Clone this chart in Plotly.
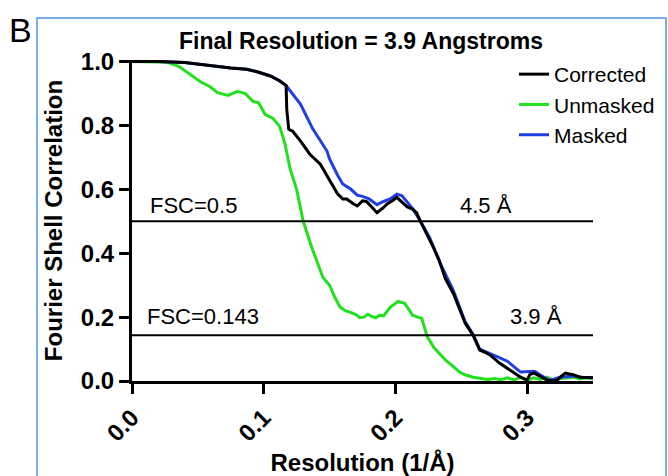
import plotly.graph_objects as go

# ---------------- data ----------------
corrected_x = [0.0, 0.02, 0.04, 0.055, 0.064, 0.075, 0.087, 0.095, 0.105, 0.112, 0.117, 0.1175, 0.119,
               0.122, 0.128, 0.135, 0.143, 0.150, 0.156, 0.160, 0.163, 0.168, 0.171, 0.175, 0.178,
               0.182, 0.186, 0.190, 0.194, 0.198, 0.201, 0.205, 0.209, 0.213, 0.216, 0.219, 0.224,
               0.229, 0.233, 0.238, 0.244, 0.249, 0.253, 0.259, 0.264, 0.268, 0.272, 0.279, 0.284,
               0.289, 0.295, 0.300, 0.302, 0.305, 0.308, 0.312, 0.315, 0.320, 0.323, 0.326, 0.329,
               0.332, 0.335, 0.340, 0.345, 0.350]
corrected_y = [1.0, 1.0, 0.997, 0.99, 0.984, 0.98, 0.976, 0.968, 0.955, 0.94, 0.925, 0.85, 0.788,
               0.782, 0.751, 0.710, 0.679, 0.630, 0.586, 0.570, 0.570, 0.555, 0.548, 0.564, 0.562,
               0.545, 0.527, 0.540, 0.555, 0.565, 0.575, 0.560, 0.545, 0.538, 0.527, 0.500, 0.461,
               0.417, 0.380, 0.320, 0.274, 0.220, 0.181, 0.143, 0.097, 0.090, 0.081, 0.056, 0.042,
               0.028, 0.012, 0.003, 0.020, 0.025, 0.019, 0.010, 0.003, 0.0, 0.003, 0.015, 0.025,
               0.022, 0.020, 0.012, 0.012, 0.010]

unmasked_x = [0.0, 0.02, 0.027, 0.036, 0.046, 0.052, 0.059, 0.065, 0.073, 0.080, 0.086, 0.092, 0.096,
              0.101, 0.107, 0.112, 0.116, 0.120, 0.125, 0.130, 0.137, 0.145, 0.150, 0.154, 0.158,
              0.162, 0.166, 0.170, 0.173, 0.176, 0.179, 0.182, 0.185, 0.188, 0.191, 0.196, 0.202,
              0.207, 0.210, 0.213, 0.217, 0.220, 0.224, 0.229, 0.232, 0.239, 0.244, 0.249, 0.254,
              0.259, 0.265, 0.270, 0.275, 0.280, 0.285, 0.290, 0.295, 0.300, 0.305, 0.310, 0.315,
              0.320, 0.325, 0.330, 0.335, 0.340, 0.345, 0.350]
unmasked_y = [1.0, 1.0, 0.998, 0.984, 0.953, 0.937, 0.922, 0.903, 0.894, 0.907, 0.900, 0.875, 0.872,
              0.835, 0.822, 0.798, 0.745, 0.665, 0.600, 0.500, 0.412, 0.324, 0.300, 0.262, 0.231,
              0.220, 0.215, 0.208, 0.198, 0.200, 0.209, 0.202, 0.198, 0.206, 0.204, 0.231, 0.249,
              0.243, 0.225, 0.206, 0.200, 0.196, 0.140, 0.106, 0.092, 0.062, 0.045, 0.027, 0.018,
              0.012, 0.008, 0.005, 0.008, 0.004, 0.010, 0.003, 0.012, 0.002, 0.010, 0.005, 0.012,
              0.003, 0.008, 0.010, 0.012, 0.006, 0.010, 0.008]

masked_x = [0.0, 0.02, 0.04, 0.055, 0.064, 0.075, 0.087, 0.095, 0.105, 0.112, 0.117, 0.128, 0.137,
            0.148, 0.150, 0.156, 0.160, 0.166, 0.171, 0.175, 0.180, 0.186, 0.191, 0.196, 0.201,
            0.205, 0.209, 0.213, 0.219, 0.226, 0.234, 0.244, 0.253, 0.259, 0.264, 0.270, 0.278,
            0.285, 0.290, 0.295, 0.302, 0.306, 0.310, 0.317, 0.325, 0.335, 0.342, 0.350]
masked_y = [1.0, 1.0, 0.997, 0.99, 0.984, 0.98, 0.976, 0.968, 0.955, 0.94, 0.925, 0.866, 0.791,
            0.720, 0.695, 0.645, 0.617, 0.601, 0.582, 0.578, 0.570, 0.552, 0.562, 0.570, 0.585,
            0.580, 0.560, 0.540, 0.500, 0.449, 0.368, 0.283, 0.185, 0.145, 0.100, 0.090, 0.075,
            0.062, 0.045, 0.028, 0.030, 0.030, 0.019, 0.002, 0.012, 0.016, 0.012, 0.010]

thresholds = [0.5, 0.143]
threshold_labels = ["FSC=0.5", "FSC=0.143"]
resolution_labels = ["4.5 Å", "3.9 Å"]

x_ticks = [0.0, 0.1, 0.2, 0.3]
y_ticks = [0.0, 0.2, 0.4, 0.6, 0.8, 1.0]

# ---------------- layout helpers ----------------
W, H = 668, 476
L, R, T, B = 132, 593, 60, 381


def px(x):
    return (x - L) / (R - L)


def py(y):
    return (B - y) / (B - T)


BOLD = dict(family="Liberation Sans, Arial, sans-serif", size=24, color="black", weight="bold")
REG = dict(family="Liberation Sans, Arial, sans-serif", size=22, color="black")

fig = go.Figure()

fig.add_trace(go.Scatter(x=unmasked_x, y=unmasked_y, mode="lines", name="Unmasked",
                         line=dict(color="#22e01e", width=3), legendrank=2))
fig.add_trace(go.Scatter(x=masked_x, y=masked_y, mode="lines", name="Masked",
                         line=dict(color="#1f3fe0", width=3), legendrank=3))
fig.add_trace(go.Scatter(x=corrected_x, y=corrected_y, mode="lines", name="Corrected",
                         line=dict(color="black", width=3), legendrank=1))

for t in thresholds:
    fig.add_shape(type="line", xref="x", yref="y", x0=0, x1=0.35, y0=t, y1=t,
                  line=dict(color="black", width=2))

annotations = []
annotations.append(dict(x=0.012, y=0.548, xref="x", yref="y", text=threshold_labels[0],
                        showarrow=False, xanchor="left", yanchor="middle", font=REG))
annotations.append(dict(x=0.010, y=0.202, xref="x", yref="y", text=threshold_labels[1],
                        showarrow=False, xanchor="left", yanchor="middle", font=REG))
annotations.append(dict(x=0.269, y=0.548, xref="x", yref="y", text=resolution_labels[0],
                        showarrow=False, xanchor="center", yanchor="middle", font=REG))
annotations.append(dict(x=0.307, y=0.202, xref="x", yref="y", text=resolution_labels[1],
                        showarrow=False, xanchor="center", yanchor="middle", font=REG))
# title
annotations.append(dict(x=px(361), y=py(41), xref="paper", yref="paper",
                        text="Final Resolution = 3.9 Angstroms", showarrow=False,
                        xanchor="center", yanchor="middle",
                        font=dict(family="Liberation Sans, Arial, sans-serif",
                                  size=23, color="black", weight="bold")))
# panel letter
annotations.append(dict(x=px(20), y=py(30), xref="paper", yref="paper", text="B",
                        showarrow=False, xanchor="center", yanchor="middle",
                        font=dict(family="Liberation Sans, Arial, sans-serif", size=34, color="black")))

fig.add_shape(type="rect", xref="paper", yref="paper", x0=px(37), x1=px(666), y0=py(18), y1=py(482),
              line=dict(color="#7ab0e6", width=2), fillcolor="rgba(0,0,0,0)", layer="below")

fig.update_layout(
    width=W, height=H,
    margin=dict(l=L, r=W - R, t=T, b=H - B, pad=0, autoexpand=False),
    paper_bgcolor="white", plot_bgcolor="white",
    annotations=annotations,
    showlegend=True,
    legend=dict(x=px(514), y=py(54), xanchor="left", yanchor="top",
                font=dict(family="Liberation Sans, Arial, sans-serif", size=21, color="black"),
                bgcolor="rgba(0,0,0,0)", borderwidth=0, itemwidth=30, tracegroupgap=0),
    xaxis=dict(range=[0, 0.35], tickvals=x_ticks, tickformat=".1f", tickangle=-45,
               showline=True, linecolor="black", linewidth=3, ticks="outside", ticklen=10,
               tickwidth=3, tickcolor="black", showgrid=False, zeroline=False, tickfont=BOLD,
               automargin=False,
               title=dict(text="Resolution (1/Å)", font=BOLD, standoff=14)),
    yaxis=dict(range=[0, 1.005], tickvals=y_ticks, tickformat=".1f",
               showline=True, linecolor="black", linewidth=3, ticks="outside", ticklen=10,
               tickwidth=3, tickcolor="black", showgrid=False, zeroline=False, tickfont=BOLD,
               automargin=False,
               title=dict(text="Fourier Shell Correlation", font=BOLD, standoff=12)),
)

fig.write_html("out.html", config={"displayModeBar": False},
               post_script="document.body.style.margin='0px';document.body.style.overflow='hidden';")
